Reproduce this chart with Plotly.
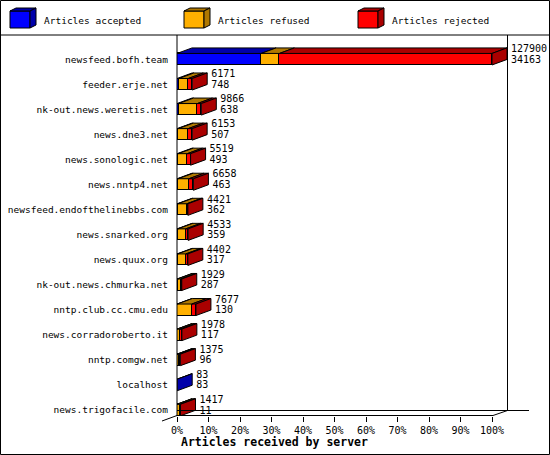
import plotly.graph_objects as go

# feeds into the server, counts
servers = [
    "newsfeed.bofh.team", "feeder.erje.net", "nk-out.news.weretis.net",
    "news.dne3.net", "news.sonologic.net", "news.nntp4.net",
    "newsfeed.endofthelinebbs.com", "news.snarked.org", "news.quux.org",
    "nk-out.news.chmurka.net", "nntp.club.cc.cmu.edu", "news.corradoroberto.it",
    "nntp.comgw.net", "localhost", "news.trigofacile.com",
]
offered = [127900, 6171, 9866, 6153, 5519, 6658, 4421, 4533, 4402, 1929, 7677, 1978, 1375, 83, 1417]
accepted = [34163, 748, 638, 507, 493, 463, 362, 359, 317, 287, 130, 117, 96, 83, 11]
refused = [7430, 3823, 7628, 4066, 3686, 4405, 3559, 3174, 3285, 1242, 5847, 1091, 589, 0, 1206]
rejected = [86307, 1600, 1600, 1580, 1340, 1790, 500, 1000, 800, 400, 1700, 770, 690, 0, 200]

x_ticks = list(range(0, 101, 10))
series_names = ["Articles accepted", "Articles refused", "Articles rejected"]
front_colors = ["#0000ff", "#ffb000", "#ff0000"]
dark_colors = ["#0000aa", "#b07800", "#aa0000"]

MONO = "DejaVu Sans Mono"

W, H = 550, 455
L, R, T, B = 177, 5, 35, 39
pw, ph = W - L - R, H - T - B

# geometry (data units): 3.15 px per x unit, 25.06 px per row
PX_X = 3.15
X_MAX = pw / PX_X
Y_TOP, Y_BOT = -0.966, 14.238
DEPTH_X = 15 / PX_X
DEPTH_Y = 0.22
HALF = 0.23


def px(x):   # pixel -> paper x
    return (x - L) / pw


def py(y):   # pixel -> paper y
    return (H - B - y) / ph


scale = 100.0 / max(offered)
rows = list(range(len(servers)))
values = [accepted, refused, rejected]

fig = go.Figure()

# front faces
for name, vals, col in zip(series_names, values, front_colors):
    fig.add_trace(go.Bar(
        y=rows, x=[v * scale for v in vals], orientation="h", name=name,
        width=2 * HALF, marker=dict(color=col, line=dict(color="black", width=1)),
        showlegend=False,
    ))

# top and side faces
tops = [([], []) for _ in front_colors]
sides = [([], []) for _ in front_colors]
for i in rows:
    x0 = 0.0
    last = 0
    for k, vals in enumerate(values):
        v = vals[i] * scale
        if vals[i] <= 0:
            continue
        x1 = x0 + v
        yt = i - HALF
        tops[k][0].extend([x0, x1, x1 + DEPTH_X, x0 + DEPTH_X, x0, None])
        tops[k][1].extend([yt, yt, yt - DEPTH_Y, yt - DEPTH_Y, yt, None])
        x0 = x1
        last = k
    sides[last][0].extend([x0, x0, x0 + DEPTH_X, x0 + DEPTH_X, x0, None])
    sides[last][1].extend([i - HALF, i + HALF, i + HALF - DEPTH_Y, i - HALF - DEPTH_Y, i - HALF, None])

for k in range(3):
    for xs, ys in (tops[k], sides[k]):
        if xs:
            fig.add_trace(go.Scatter(
                x=xs, y=ys, mode="lines", fill="toself", fillcolor=dark_colors[k],
                line=dict(color="black", width=1), hoverinfo="skip", showlegend=False,
            ))

# value labels at the end of each bar
label_x = [o * scale + DEPTH_X + 4 / PX_X for o in offered]
fig.add_trace(go.Scatter(
    x=label_x, y=[i - 0.38 for i in rows], mode="text", text=[str(v) for v in offered],
    textposition="middle right", textfont=dict(family=MONO, size=10, color="black"),
    cliponaxis=False, hoverinfo="skip", showlegend=False,
))
fig.add_trace(go.Scatter(
    x=label_x, y=[i + 0.04 for i in rows], mode="text", text=[str(v) for v in accepted],
    textposition="middle right", textfont=dict(family=MONO, size=10, color="black"),
    cliponaxis=False, hoverinfo="skip", showlegend=False,
))

line = dict(color="black", width=1)
shapes = [
    # outer frame and legend separator
    dict(type="rect", xref="paper", yref="paper", x0=px(0.5), x1=px(549.5), y0=py(0.5), y1=py(454.5), line=line),
    dict(type="line", xref="paper", yref="paper", x0=px(0), x1=px(550), y0=py(35), y1=py(35), line=line),
    # back walls
    dict(type="line", xref="paper", yref="paper", x0=px(177), x1=px(177), y0=py(35), y1=py(416), line=line),
    dict(type="line", xref="paper", yref="paper", x0=px(507.5), x1=px(507.5), y0=py(35), y1=py(410.5), line=line),
    # floor
    dict(type="line", xref="paper", yref="paper", x0=px(177), x1=px(529), y0=py(410.5), y1=py(410.5), line=line),
    dict(type="line", xref="paper", yref="paper", x0=px(177), x1=px(493), y0=py(415.5), y1=py(415.5), line=line),
    dict(type="line", xref="paper", yref="paper", x0=px(493), x1=px(507.5), y0=py(415.5), y1=py(410.5), line=line),
    dict(type="line", xref="paper", yref="paper", x0=px(177), x1=px(162), y0=py(415.5), y1=py(421), line=line),
]

# legend boxes drawn as small cubes
annotations = []
for k, (lx, tx) in enumerate([(10, 42), (184, 216), (358, 390)]):
    fx0, fx1, fy0, fy1 = lx, lx + 20, 11, 28
    d, e = 6, 3
    shapes.append(dict(type="rect", xref="paper", yref="paper", x0=px(fx0), x1=px(fx1),
                       y0=py(fy0), y1=py(fy1), fillcolor=front_colors[k], line=line))
    shapes.append(dict(type="path", xref="paper", yref="paper", fillcolor=dark_colors[k], line=line,
                       path=f"M{px(fx0)},{py(fy0)} L{px(fx1)},{py(fy0)} L{px(fx1 + d)},{py(fy0 - e)} "
                            f"L{px(fx0 + d)},{py(fy0 - e)} Z"))
    shapes.append(dict(type="path", xref="paper", yref="paper", fillcolor=dark_colors[k], line=line,
                       path=f"M{px(fx1)},{py(fy0)} L{px(fx1)},{py(fy1)} L{px(fx1 + d)},{py(fy1 - e)} "
                            f"L{px(fx1 + d)},{py(fy0 - e)} Z"))
    annotations.append(dict(xref="paper", yref="paper", x=px(tx), y=py(20), text=series_names[k],
                            showarrow=False, xanchor="left", yanchor="middle",
                            font=dict(family=MONO, size=9.5, color="black")))

annotations.append(dict(xref="paper", yref="paper", x=px(179), y=py(442),
                        text="<b>Articles received by server</b>", showarrow=False,
                        xanchor="left", yanchor="middle",
                        font=dict(family=MONO, size=11.5, color="black")))

fig.update_layout(
    template="none",
    width=W, height=H, autosize=False,
    margin=dict(l=L, r=R, t=T, b=B, pad=0),
    barmode="stack", bargap=0,
    paper_bgcolor="white", plot_bgcolor="white",
    font=dict(family=MONO, size=10, color="black"),
    shapes=shapes, annotations=annotations,
    showlegend=False,
    xaxis=dict(range=[0, X_MAX], tickvals=x_ticks, ticktext=[f"{v}%" for v in x_ticks],
               ticks="outside", ticklen=5, tickcolor="black", tickwidth=1,
               showgrid=False, zeroline=False, showline=False, fixedrange=True,
               automargin=False, tickfont=dict(family=MONO, size=10)),
    yaxis=dict(range=[Y_BOT, Y_TOP], tickvals=rows, ticktext=servers,
               showgrid=False, zeroline=False, showline=False, ticks="",
               ticklabelstandoff=8, fixedrange=True, automargin=False,
               tickfont=dict(family=MONO, size=9.5)),
)

# the page body has a default margin; drop it so the chart sits at the corner
fig.write_html("out.html", config={"displayModeBar": False},
               post_script="document.body.style.margin='0';document.body.style.overflow='hidden';")
